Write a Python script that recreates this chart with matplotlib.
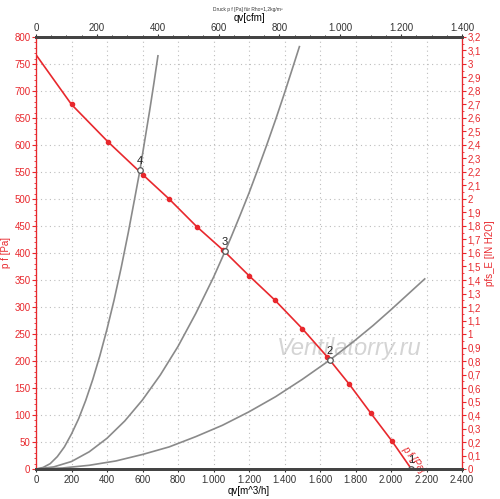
import matplotlib
matplotlib.use('Agg')
import matplotlib.pyplot as plt
from matplotlib.ticker import MultipleLocator, FuncFormatter

# fan curve p_f (m^3/h, Pa)
fan_flow = [0, 200, 405, 605, 750, 905, 1055, 1200, 1345, 1500, 1640, 1765, 1885, 2005, 2115]
fan_pressure = [767, 675, 606, 544, 500, 449, 405, 358, 313, 260, 208, 157, 104, 52, 0]

# system curves (grey)
sys_a_flow = [0, 40, 80, 120, 160, 200, 240, 280, 320, 360, 400, 440, 480, 520, 560,
              586, 610, 640, 665, 687]
sys_a_pressure = [0, 3, 10, 23, 41, 65, 93, 127, 166, 210, 259, 313, 373, 438, 508,
                  554, 603, 663, 716, 765]
sys_b_flow = [0, 100, 200, 300, 400, 500, 600, 700, 800, 900, 1000, 1065, 1100, 1150,
              1200, 1250, 1300, 1350, 1400, 1450, 1484]
sys_b_pressure = [0, 4, 14, 32, 57, 89, 128, 174, 227, 288, 355, 403, 430, 470,
                  511, 555, 600, 647, 696, 747, 782]
sys_c_flow = [0, 150, 300, 450, 600, 750, 900, 1050, 1200, 1350, 1500, 1656, 1800,
              1900, 2000, 2100, 2190]
sys_c_pressure = [0, 2, 7, 15, 27, 41, 60, 81, 106, 134, 166, 202, 239,
                  266, 295, 325, 352]

# operating points
op_flow = [2115, 1656, 1065, 586]
op_pressure = [0, 202, 403, 554]
op_labels = ['1', '2', '3', '4']

red = '#e8282d'
grey = '#8a8a8a'
plt.rcParams['font.family'] = ['Liberation Sans', 'DejaVu Sans']


def num_fmt(v, pos=None):
    # german style numbers: 1.000 and 0,1
    if abs(v - round(v)) < 1e-9:
        return '{:,}'.format(int(round(v))).replace(',', '.')
    return ('%.1f' % v).replace('.', ',')


fig = plt.figure(figsize=(5, 4.99), dpi=100)
ax = fig.add_axes([0.072, 0.060, 0.852, 0.866])

ax.plot(sys_a_flow, sys_a_pressure, color=grey, lw=1.2, zorder=2)
ax.plot(sys_b_flow, sys_b_pressure, color=grey, lw=1.2, zorder=2)
ax.plot(sys_c_flow, sys_c_pressure, color=grey, lw=1.2, zorder=2)
ax.plot(fan_flow, fan_pressure, color=red, lw=1.2, zorder=3)
ax.plot(fan_flow[1:-1], fan_pressure[1:-1], 'o', color=red, ms=3, zorder=4)

ax.plot(op_flow, op_pressure, 'o', mfc='white', mec='#555555', ms=4, mew=0.9, zorder=5)
for q, p, lab in zip(op_flow, op_pressure, op_labels):
    ax.annotate(lab, (q, p), xytext=(0, 3), textcoords='offset points',
                ha='center', va='bottom', fontsize=8, color='#222222', zorder=6)

ax.text(2125, 18, 'p f [Pa]', color=red, fontsize=7, rotation=-53,
        ha='center', va='center', style='italic')

ax.text(0.735, 0.28, 'Ventilatorry.ru', transform=ax.transAxes, fontsize=17,
        style='italic', color='#d4d4d4', ha='center', va='center', zorder=1)

ax.set_xlim(0, 2400)
ax.set_ylim(0, 800)
ax.xaxis.set_major_locator(MultipleLocator(200))
ax.yaxis.set_major_locator(MultipleLocator(50))
ax.yaxis.set_minor_locator(MultipleLocator(10))
ax.xaxis.set_major_formatter(FuncFormatter(num_fmt))
ax.yaxis.set_major_formatter(FuncFormatter(num_fmt))
ax.grid(True, which='major', color='#bdbdbd', ls=(0, (1, 3)), lw=0.8)
ax.tick_params(axis='x', labelsize=7, length=2, pad=2, colors='#333333')
ax.tick_params(axis='y', labelsize=7, length=3, pad=1, colors=red)
ax.tick_params(axis='y', which='minor', length=1.5, colors=red)
ax.set_xlabel('qv[m^3/h]', fontsize=7, labelpad=1)
ax.set_ylabel('p f [Pa]', fontsize=7, color=red, labelpad=2)

# top axis in cfm
ax_top = ax.twiny()
ax_top.set_xlim(0, 1400)
ax_top.xaxis.set_major_locator(MultipleLocator(200))
ax_top.xaxis.set_minor_locator(MultipleLocator(50))
ax_top.xaxis.set_major_formatter(FuncFormatter(num_fmt))
ax_top.tick_params(axis='x', labelsize=7, length=2, pad=1, colors='#333333')
ax_top.tick_params(axis='x', which='minor', length=1.5)
ax_top.set_xlabel('qv[cfm]', fontsize=7, labelpad=1)

# right axis in inch water
ax_right = ax.twinx()
ax_right.set_ylim(0, 3.2)
ax_right.yaxis.set_major_locator(MultipleLocator(0.1))
ax_right.yaxis.set_minor_locator(MultipleLocator(0.05))
ax_right.yaxis.set_major_formatter(FuncFormatter(num_fmt))
ax_right.tick_params(axis='y', labelsize=7, length=3, pad=1, colors=red)
ax_right.tick_params(axis='y', which='minor', length=1.5, colors=red)
ax_right.set_ylabel('pfs_E [IN H2O]', fontsize=7, color=red, labelpad=3)

for a in (ax, ax_top, ax_right):
    a.spines['left'].set_color(red)
    a.spines['right'].set_color(red)
    a.spines['top'].set_color('#444444')
    a.spines['bottom'].set_color('#444444')
    a.spines['top'].set_linewidth(2)
    a.spines['bottom'].set_linewidth(2)

fig.text(0.495, 0.98, 'Druck p f [Pa] für Rho=1,2kg/m³', fontsize=3.5,
         ha='center', va='center', color='#333333')

fig.savefig('out.png', dpi=100)
